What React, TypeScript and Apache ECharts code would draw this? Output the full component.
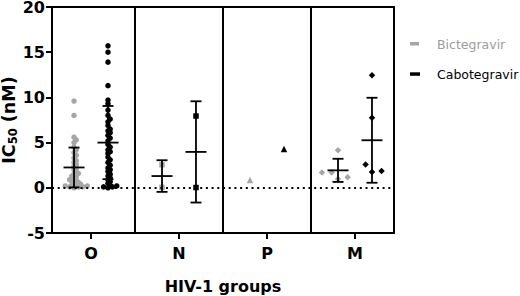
import React, { useEffect, useRef } from "react";
import * as echarts from "echarts";

const groups = ["O", "N", "P", "M"];
const yTicks = [-5, 0, 5, 10, 15, 20];
const legendNames = ["Bictegravir", "Cabotegravir"];

const bictO = [9.6, 8.0, 5.6, 5.3, 5.0, 4.5, 4.2, 3.9, 3.6, 3.3, 3.0, 2.8, 2.6, 2.4, 2.2, 2.0, 1.8, 1.6, 1.5, 1.3, 1.2, 1.0, 0.9, 0.8, 0.7, 0.6, 0.5, 0.4, 0.3, 0.3, 0.2, 0.2, 0.1, 0.1, 0.1, 0.0];
const caboO = [15.7, 15.0, 13.9, 11.3, 9.7, 9.3, 8.6, 8.0, 7.6, 7.3, 6.9, 6.5, 6.3, 6.1, 5.8, 5.5, 5.2, 4.8, 4.5, 4.2, 4.0, 3.8, 3.4, 3.1, 2.8, 2.5, 2.2, 2.0, 1.8, 1.5, 1.3, 1.1, 0.9, 0.7, 0.5, 0.3, 0.2, 0.1, 0.1, 0.0];
const bictN = [2.55, 0.05];
const caboN = [7.94, 0.03];
const bictP = [0.85];
const caboP = [4.3];
const bictM = [4.15, 1.69, 1.69, 0.96, 1.18];
const caboM = [12.46, 7.75, 2.57, 1.76, 1.87];

// mean and SD
const bictMean = [2.25, 1.3, null, 1.93];
const bictSD = [2.2, 1.75, null, 1.28];
const caboMean = [5.0, 3.97, null, 5.26];
const caboSD = [4.05, 5.6, null, 4.7];

const GREY = "#a6a6a6";
const GREY_TEXT = "#9c9c9c";
const BLACK = "#000000";
const BOLD_FONT = "DejaVu Sans, Verdana, sans-serif";

// layout constants (pixels)
const PX_PER_X = 88;
const PX_PER_Y = 226 / 25;
const OFFSET = 0.193;

function swarm(values: number[], center: number, diam: number, overlap: number): number[][] {
  const sorted = [...values].sort((a, b) => a - b);
  const placed: number[][] = [];
  const out: number[][] = [];
  const step = diam / 2.5;
  const minD = diam * overlap;
  for (const v of sorted) {
    const yp = v * PX_PER_Y;
    let chosen = 0;
    for (let i = 0; i < 40; i++) {
      const k = i === 0 ? 0 : (i % 2 === 1 ? Math.ceil(i / 2) : -Math.ceil(i / 2));
      const xp = k * step;
      let ok = true;
      for (const p of placed) {
        const dx = p[0] - xp;
        const dy = p[1] - yp;
        if (dx * dx + dy * dy < minD * minD) { ok = false; break; }
      }
      if (ok) { chosen = xp; break; }
    }
    placed.push([chosen, yp]);
    out.push([center + chosen / PX_PER_X, v]);
  }
  return out;
}

export default function App() {
  const ref = useRef<HTMLDivElement>(null);
  useEffect(() => {
    if (!ref.current) return;
    const chart = echarts.init(ref.current, null, { renderer: "svg" });

    const scatter = (name: string, data: number[][], color: string, symbol: string, size: number) => ({
      name,
      type: "scatter",
      data,
      symbol,
      symbolSize: size,
      itemStyle: { color, opacity: 1 },
      z: 2,
    });

    const errData = (means: (number | null)[], sds: (number | null)[], sign: number) =>
      means
        .map((m, i) => (m === null ? null : [i + 1 + sign * OFFSET, m, sds[i] as number]))
        .filter((d) => d !== null);

    const renderErr = (params: any, api: any) => {
      const x = api.value(0);
      const m = api.value(1);
      const sd = api.value(2);
      const c = api.coord([x, m]);
      const t = api.coord([x, m + sd]);
      const b = api.coord([x, m - sd]);
      const st = { stroke: BLACK, lineWidth: 1.8 };
      const hw = 10.5;
      const cw = 5.5;
      return {
        type: "group",
        children: [
          { type: "line", shape: { x1: c[0] - hw, y1: c[1], x2: c[0] + hw, y2: c[1] }, style: st },
          { type: "line", shape: { x1: c[0], y1: t[1], x2: c[0], y2: b[1] }, style: st },
          { type: "line", shape: { x1: c[0] - cw, y1: t[1], x2: c[0] + cw, y2: t[1] }, style: st },
          { type: "line", shape: { x1: c[0] - cw, y1: b[1], x2: c[0] + cw, y2: b[1] }, style: st },
        ],
      };
    };

    const option: any = {
      animation: false,
      grid: {
        left: 52,
        right: 126,
        top: 7,
        bottom: 63,
        show: true,
        borderColor: BLACK,
        borderWidth: 2,
        containLabel: false,
        outerBoundsMode: "none",
      },
      graphic: [
        { type: "rect", shape: { x: 410, y: 42, width: 9, height: 3.5 }, style: { fill: GREY } },
        {
          type: "text",
          x: 437,
          y: 44,
          style: { text: legendNames[0], fill: GREY_TEXT, font: "12.5px DejaVu Sans, sans-serif", verticalAlign: "middle" },
        },
        { type: "rect", shape: { x: 410, y: 72.3, width: 10, height: 3.5 }, style: { fill: BLACK } },
        {
          type: "text",
          x: 437,
          y: 74,
          style: { text: legendNames[1], fill: BLACK, font: "12.5px DejaVu Sans, sans-serif", verticalAlign: "middle" },
        },
      ],
      xAxis: {
        type: "value",
        min: 1 - 39 / PX_PER_X,
        max: 4 + 39 / PX_PER_X,
        splitLine: { show: false },
        axisLine: { show: true, onZero: false, lineStyle: { color: BLACK, width: 2 } },
        axisTick: { show: true, length: 6, lineStyle: { color: BLACK, width: 2 }, customValues: [1, 2, 3, 4] },
        axisLabel: {
          customValues: [1, 2, 3, 4],
          formatter: (v: number) => groups[Math.round(v) - 1] ?? "",
          color: BLACK,
          fontWeight: "bold",
          fontSize: 16,
          fontFamily: BOLD_FONT,
          margin: 12,
        },
        name: "HIV-1 groups",
        nameLocation: "middle",
        nameGap: 45,
        nameMoveOverlap: false,
        nameTextStyle: { color: BLACK, fontWeight: "bold", fontSize: 16, fontFamily: BOLD_FONT },
      },
      yAxis: {
        type: "value",
        min: -5,
        max: 20,
        interval: 5,
        splitLine: { show: false },
        axisLine: { show: true, onZero: false, lineStyle: { color: BLACK, width: 2 } },
        axisTick: { show: true, length: 6, lineStyle: { color: BLACK, width: 2 } },
        axisLabel: {
          color: BLACK,
          fontWeight: "bold",
          fontSize: 16,
          fontFamily: BOLD_FONT,
          margin: 7,
          formatter: (v: number) => (yTicks.includes(v) ? String(v) : ""),
        },
        name: "IC{s|50} (nM)",
        nameLocation: "middle",
        nameGap: 33,
        nameRotate: 90,
        nameMoveOverlap: false,
        nameTextStyle: {
          color: BLACK,
          fontWeight: "bold",
          fontSize: 17.5,
          fontFamily: BOLD_FONT,
          rich: {
            s: { fontSize: 11.5, fontWeight: "bold", fontFamily: BOLD_FONT, padding: [9, 0, 0, 0] },
          },
        },
      },
      series: [
        {
          name: "separators",
          type: "line",
          data: [],
          silent: true,
          markLine: {
            silent: true,
            symbol: "none",
            label: { show: false },
            lineStyle: { color: BLACK, width: 2, type: "solid" },
            data: [{ xAxis: 1.5 }, { xAxis: 2.5 }, { xAxis: 3.5 }],
          },
        },
        {
          name: "zero",
          type: "line",
          data: [],
          silent: true,
          markLine: {
            silent: true,
            symbol: "none",
            label: { show: false },
            lineStyle: { color: BLACK, width: 2, type: [2, 3.7] },
            data: [{ yAxis: 0 }],
          },
        },
        scatter("Bictegravir", swarm(bictO, 1 - OFFSET, 5.5, 0.5), GREY, "circle", 5.5),
        scatter("Cabotegravir", swarm(caboO, 1 + OFFSET, 5.5, 0.5), BLACK, "circle", 5.5),
        scatter("Bictegravir", swarm(bictN, 2 - OFFSET, 6, 1), GREY, "rect", 5.5),
        scatter("Cabotegravir", swarm(caboN, 2 + OFFSET, 6, 1), BLACK, "rect", 5.5),
        scatter("Bictegravir", swarm(bictP, 3 - OFFSET, 6, 1), GREY, "triangle", 6.5),
        scatter("Cabotegravir", swarm(caboP, 3 + OFFSET, 6, 1), BLACK, "triangle", 6.5),
        scatter("Bictegravir", swarm(bictM, 4 - OFFSET, 8, 1), GREY, "diamond", 6.5),
        scatter("Cabotegravir", swarm(caboM, 4 + OFFSET, 8, 1), BLACK, "diamond", 6.5),
        {
          name: "errB",
          type: "custom",
          renderItem: renderErr,
          data: errData(bictMean, bictSD, -1),
          z: 5,
          silent: true,
        },
        {
          name: "errC",
          type: "custom",
          renderItem: renderErr,
          data: errData(caboMean, caboSD, 1),
          z: 5,
          silent: true,
        },
      ],
    };
    chart.setOption(option);
    return () => chart.dispose();
  }, []);
  return <div ref={ref} style={{ width: 520, height: 296, position: "absolute", left: 0, top: 0 }} />;
}
